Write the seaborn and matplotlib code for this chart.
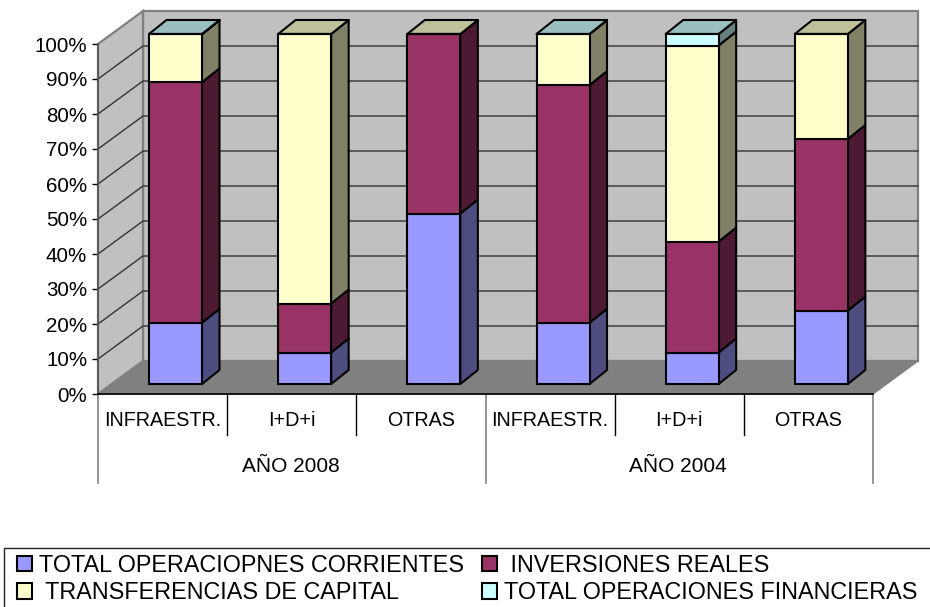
import matplotlib
matplotlib.use("Agg")
import matplotlib.pyplot as plt
from matplotlib.patches import Polygon, Patch, Rectangle
import numpy as np
import pandas as pd
import seaborn as sns

# === data ===
groups = ["AÑO 2008", "AÑO 2004"]
subcats = ["INFRAESTR.", "I+D+i", "OTRAS", "INFRAESTR.", "I+D+i", "OTRAS"]
corrientes = [17.5, 9.0, 48.7, 17.5, 9.0, 21.0]
inversiones = [68.7, 14.0, 51.25, 67.9, 31.7, 49.0]
transferencias = [13.75, 77.0, 0.05, 14.55, 56.0, 30.0]
financieras = [0.05, 0.0, 0.0, 0.05, 3.3, 0.0]
series_names = ["TOTAL OPERACIOPNES CORRIENTES", " INVERSIONES REALES",
                " TRANSFERENCIAS DE CAPITAL", "TOTAL OPERACIONES FINANCIERAS"]
series_vals = [corrientes, inversiones, transferencias, financieras]
colors = ["#9999FF", "#993366", "#FFFFCC", "#CCFFFF"]
side_colors = ["#4D4D80", "#4D1A33", "#808066", "#668080"]
top_colors = ["#7373BF", "#73264D", "#BFBF99", "#99BFBF"]
yticks = list(range(0, 101, 10))

# === layout, pixels of the 930x607 picture ===
W, H = 930, 607
X0, X1, Y0, Y100 = 98, 873, 394, 44
PX_X = (X1 - X0) / 6          # pixels per category
PX_Y = (Y0 - Y100) / 100      # pixels per percent
WALL_DX, WALL_DY = 45 / PX_X, 33 / PX_Y
BAR_DX, BAR_DY = 17.5 / PX_X, 14 / PX_Y
BAR_SHIFT, BAR_LIFT = 0.1, 10 / PX_Y
BAR_W = 53 / PX_X

plt.rcParams["font.family"] = ["Liberation Sans", "DejaVu Sans"]
fig = plt.figure(figsize=(W / 100, H / 100), dpi=100)
ax = fig.add_axes([X0 / W, 1 - Y0 / H, (X1 - X0) / W, (Y0 - Y100) / H])

df = pd.DataFrame({"key": [f"{i}" for i in range(6)]})
bottom = np.full(6, BAR_LIFT)
for vals, c in zip(series_vals, colors):
    sns.barplot(x=df["key"], y=vals, bottom=bottom, width=BAR_W, color=c, saturation=1,
                edgecolor="black", linewidth=1.5, ax=ax, zorder=5)
    bottom = bottom + np.array(vals)

ax.set_xlim(-0.5, 5.5)
ax.set_ylim(0, 100)

# === walls and floor ===
wall = dict(clip_on=False, zorder=0, edgecolor="#808080", linewidth=1.6)
ax.add_patch(Polygon([(-0.5 + WALL_DX, WALL_DY), (5.5 + WALL_DX, WALL_DY),
                      (5.5 + WALL_DX, 100 + WALL_DY), (-0.5 + WALL_DX, 100 + WALL_DY)],
                     facecolor="#C0C0C0", **wall))
ax.add_patch(Polygon([(-0.5, 0), (-0.5 + WALL_DX, WALL_DY),
                      (-0.5 + WALL_DX, 100 + WALL_DY), (-0.5, 100)],
                     facecolor="#C0C0C0", **wall))
ax.add_patch(Polygon([(-0.5, 0), (5.5, 0), (5.5 + WALL_DX, WALL_DY), (-0.5 + WALL_DX, WALL_DY)],
                     facecolor="#808080", clip_on=False, zorder=1, edgecolor="#808080", linewidth=1))
for t in yticks[1:-1]:
    ax.plot([-0.5, -0.5 + WALL_DX, 5.5 + WALL_DX], [t, t + WALL_DY, t + WALL_DY],
            color="#333333", lw=1, clip_on=False, zorder=2)

# === bar depth, taken from the seaborn bars ===
n_series = len(series_vals)
for s in range(n_series):
    for i in range(6):
        p = ax.patches[s * 6 + i]
        p.set_x(p.get_x() + BAR_SHIFT)
        x, y, w, h = p.get_x(), p.get_y(), p.get_width(), p.get_height()
        if h <= 0:
            continue
        ax.add_patch(Polygon([(x + w, y), (x + w + BAR_DX, y + BAR_DY),
                              (x + w + BAR_DX, y + h + BAR_DY), (x + w, y + h)],
                             facecolor=side_colors[s], edgecolor="black", lw=1.5,
                             joinstyle="round", clip_on=False, zorder=4 + s * 0.1))
        if abs(y + h - 100 - BAR_LIFT) < 1e-6:
            ax.add_patch(Polygon([(x, y + h), (x + w, y + h), (x + w + BAR_DX, y + h + BAR_DY),
                                  (x + BAR_DX, y + h + BAR_DY)],
                                 facecolor=top_colors[s], edgecolor="black", lw=1.5,
                                 joinstyle="round", clip_on=False, zorder=4.5))
for p in ax.patches:
    p.set_clip_on(False)

# === axes ===
sns.despine(ax=ax, top=True, right=True)
ax.spines["left"].set_color("#555555")
ax.spines["left"].set_linewidth(1.2)
ax.spines["bottom"].set_color("black")
ax.spines["bottom"].set_linewidth(1.2)
ax.spines["bottom"].set_zorder(3)
ax.set_yticks(yticks)
ax.set_yticklabels([f"{t}%" for t in yticks], fontsize=14.8)
ax.tick_params(axis="y", length=4.3, width=1, pad=3.5, color="black")
ax.set_xlabel("")
ax.set_ylabel("")
ax.set_xticks(range(6))
ax.set_xticklabels(subcats, fontsize=14.2, color="black")
ax.tick_params(axis="x", length=0, pad=12.5)

# multi level category axis
for i in range(1, 6):
    if i != 3:
        ax.plot([i - 0.5, i - 0.5], [0, -41 / PX_Y], color="black", lw=1, clip_on=False, zorder=3)
for i in [0, 3, 6]:
    ax.plot([i - 0.5, i - 0.5], [0, -89 / PX_Y], color="#808080", lw=1.2, clip_on=False, zorder=3)
for g, c in zip(groups, [1, 4]):
    ax.text(c - 0.01, -72 / PX_Y, g, ha="center", va="center", fontsize=15)

# === legend ===
fig.add_artist(Rectangle((4 / W, -0.05), 1.0, 1 - 548 / H + 0.05, transform=fig.transFigure,
                         facecolor="white", edgecolor="#222222", lw=1))
handles = [Patch(facecolor=c, edgecolor="black", lw=1.5) for c in colors]
order = [0, 2, 1, 3]
fig.legend([handles[i] for i in order], [series_names[i] for i in order], ncol=2,
           loc="upper left", bbox_to_anchor=(17 / W, 1 - 553.5 / H), frameon=False, fontsize=16.8,
           handlelength=0.65, handleheight=0.65, handletextpad=0.3, columnspacing=0.75,
           labelspacing=0.2, borderpad=0, borderaxespad=0)

fig.savefig("out.png", dpi=100)
